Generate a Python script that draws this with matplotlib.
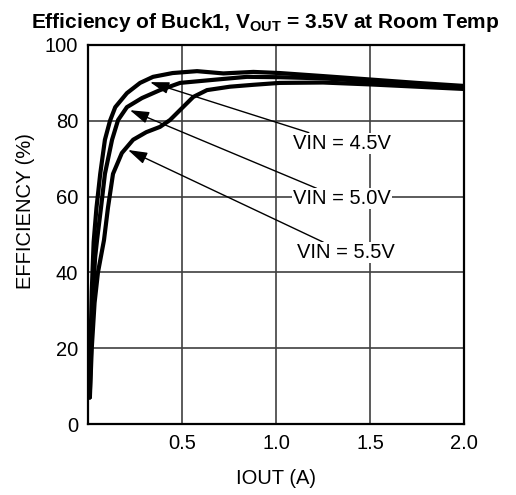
import matplotlib
matplotlib.use('Agg')
import matplotlib.pyplot as plt

# Efficiency curves (IOUT in A, efficiency in %)
iout_45 = [0.008, 0.013, 0.02, 0.03, 0.045, 0.065, 0.09, 0.117, 0.145, 0.207, 0.277,
           0.346, 0.45, 0.58, 0.72, 0.88, 1.02, 1.25, 1.5, 1.75, 2.0]
eff_45 = [7, 20, 35, 48, 57, 66, 75, 80, 83.6, 87.3, 90,
          91.6, 92.6, 93.1, 92.5, 92.9, 92.6, 91.8, 90.9, 90.0, 89.2]

iout_50 = [0.009, 0.017, 0.027, 0.038, 0.048, 0.069, 0.09, 0.128, 0.16, 0.207, 0.287,
           0.383, 0.49, 0.665, 0.845, 1.02, 1.25, 1.5, 1.75, 2.0]
eff_50 = [7, 20, 35, 44, 48.5, 57, 66, 75, 80.2, 83.6, 86,
          88.1, 90, 90.8, 91.6, 91.5, 91.2, 90.4, 89.6, 88.8]

iout_55 = [0.01, 0.02, 0.035, 0.053, 0.085, 0.106, 0.133, 0.18, 0.24, 0.31, 0.383,
           0.436, 0.505, 0.56, 0.633, 0.755, 0.88, 1.02, 1.25, 1.5, 1.75, 2.0]
eff_55 = [7, 20, 32, 40, 48.5, 57, 66, 71.5, 75, 77, 78.4,
          80.2, 83.6, 86.3, 88.1, 89, 89.5, 90, 90.1, 89.6, 89.0, 88.4]

labels = ['VIN = 4.5V', 'VIN = 5.0V', 'VIN = 5.5V']
arrow_tips = [(0.33, 90.2), (0.223, 82.8), (0.213, 72.3)]
text_pos = [(1.09, 74.1), (1.09, 59.4), (1.11, 45.2)]

x_ticks = [0.5, 1.0, 1.5, 2.0]
y_ticks = [0, 20, 40, 60, 80, 100]

FS = 14.5

plt.rcParams['font.family'] = ['Liberation Sans', 'DejaVu Sans']
plt.rcParams['mathtext.fontset'] = 'custom'
plt.rcParams['mathtext.rm'] = 'Liberation Sans'
plt.rcParams['mathtext.bf'] = 'Liberation Sans:bold'

fig = plt.figure(figsize=(5.16, 4.95), dpi=100)
ax = fig.add_axes([88 / 516, 1 - 424 / 495, 376 / 516, 379 / 495])

for x, y in [(iout_45, eff_45), (iout_50, eff_50), (iout_55, eff_55)]:
    ax.plot(x, y, color='black', lw=3, solid_capstyle='round', zorder=3)

for lab, tip, tp in zip(labels, arrow_tips, text_pos):
    ax.annotate(lab, xy=tip, xytext=tp, fontsize=FS, va='center', ha='left',
                bbox=dict(boxstyle='square,pad=0.05', fc='white', ec='none'),
                arrowprops=dict(arrowstyle='-|>,head_length=0.8,head_width=0.25',
                                color='black', lw=1, shrinkA=0, shrinkB=0),
                zorder=4)

ax.set_xlim(0, 2.0)
ax.set_ylim(0, 100)
ax.set_xticks(x_ticks)
ax.set_xticklabels(['0.5', '1.0', '1.5', '2.0'])
ax.set_yticks(y_ticks)
ax.tick_params(length=0, labelsize=FS, pad=7)
ax.grid(True, color='#404040', lw=1.2)
ax.set_axisbelow(True)
for s in ax.spines.values():
    s.set_linewidth(1.6)

ax.set_xlabel('IOUT (A)', fontsize=FS)
ax.xaxis.set_label_coords(0.5, -0.12)
ax.set_ylabel('EFFICIENCY (%)', fontsize=FS)
ax.yaxis.set_label_coords(-0.14, 0.562)

fig.text(265 / 516, 1 - 22 / 495,
         r'Efficiency of Buck1, V$_\mathbf{OUT}$ = 3.5V at Room Temp',
         fontsize=15, fontweight='bold', ha='center', va='center')

fig.savefig('out.png', dpi=100)
